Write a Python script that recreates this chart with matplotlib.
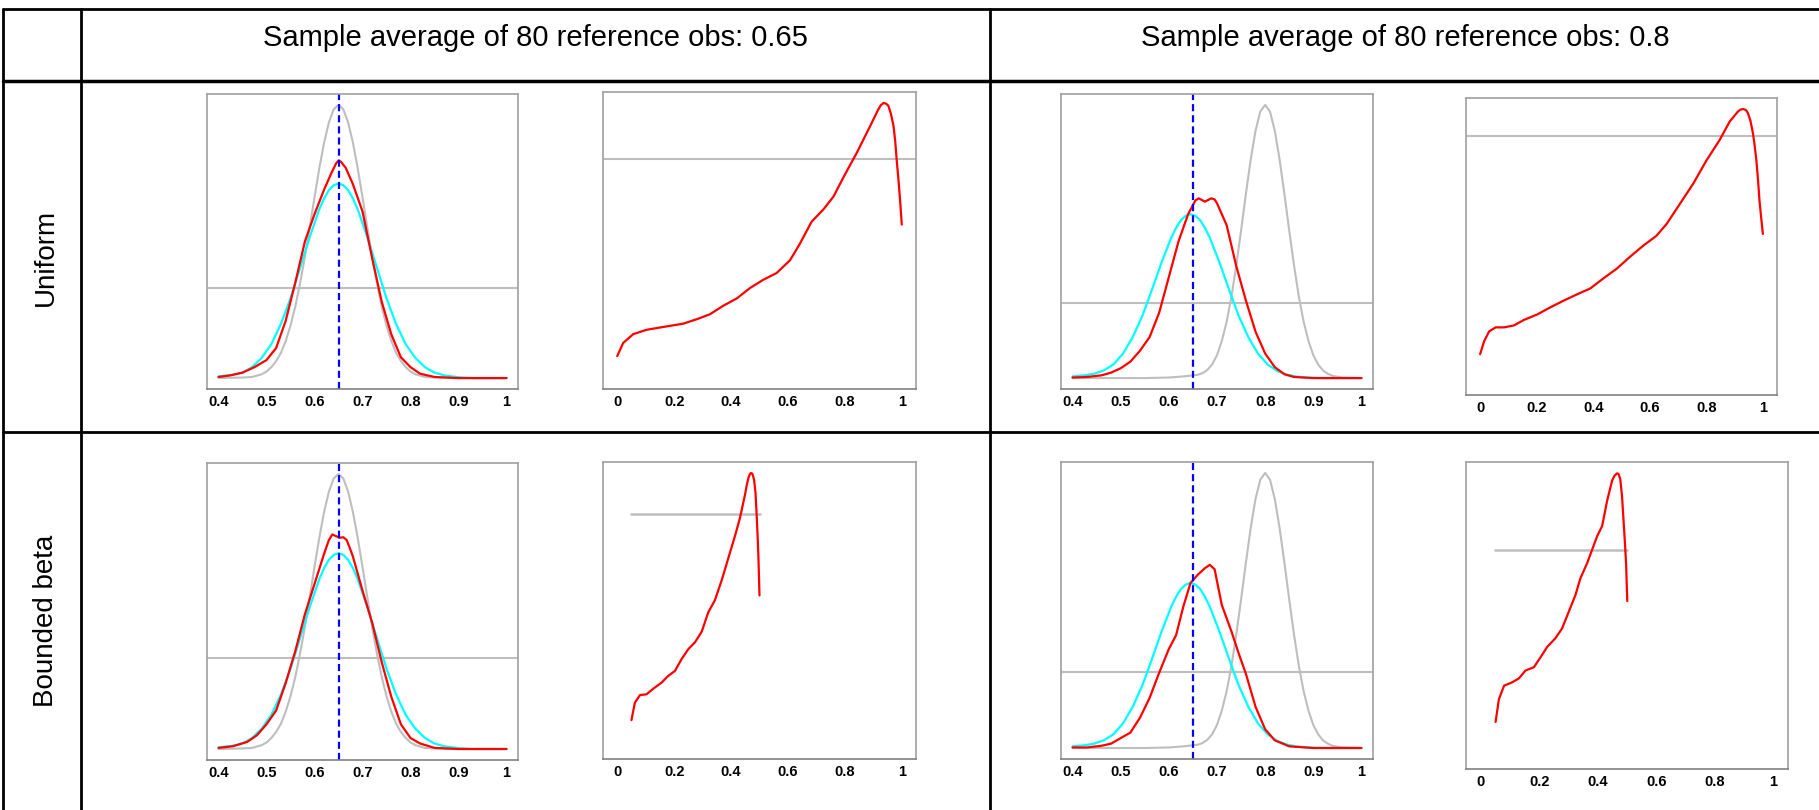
import matplotlib.pyplot as plt
from matplotlib.lines import Line2D

plt.rcParams["lines.solid_joinstyle"] = "round"
plt.rcParams["lines.solid_capstyle"] = "round"

# ---- data ----
# left panels: densities on 0.4 .. 1 (units: gray peak = 5)
gray_065_x = [0.40, 0.45, 0.47, 0.49, 0.50, 0.51, 0.52, 0.53, 0.54, 0.55, 0.56, 0.57, 0.58, 0.59, 0.60,
              0.61, 0.62, 0.63, 0.64, 0.65, 0.66, 0.67, 0.68, 0.69, 0.70, 0.71, 0.72, 0.73, 0.74,
              0.75, 0.76, 0.77, 0.78, 0.79, 0.80, 0.81, 0.83, 0.85, 0.90, 1.00]
gray_065_y = [0.00, 0.01, 0.02, 0.07, 0.12, 0.20, 0.31, 0.46, 0.68, 0.96, 1.31, 1.74, 2.22, 2.76, 3.31,
              3.84, 4.31, 4.68, 4.92, 5.00, 4.92, 4.68, 4.31, 3.84, 3.31, 2.76, 2.22, 1.74, 1.31,
              0.96, 0.68, 0.46, 0.31, 0.20, 0.12, 0.07, 0.02, 0.01, 0.00, 0.00]

gray_080_x = [0.40, 0.55, 0.60, 0.63, 0.65, 0.66, 0.67, 0.68, 0.69, 0.70, 0.71, 0.72, 0.73, 0.74, 0.75,
              0.76, 0.77, 0.78, 0.79, 0.80, 0.81, 0.82, 0.83, 0.84, 0.85, 0.86, 0.87, 0.88, 0.89,
              0.90, 0.91, 0.92, 0.93, 0.94, 0.96, 1.00]
gray_080_y = [0.00, 0.00, 0.01, 0.03, 0.05, 0.06, 0.09, 0.15, 0.25, 0.42, 0.68, 1.03, 1.49, 2.06, 2.70,
              3.37, 4.00, 4.53, 4.88, 5.00, 4.88, 4.53, 4.00, 3.37, 2.70, 2.06, 1.49, 1.03, 0.68,
              0.42, 0.25, 0.14, 0.08, 0.04, 0.01, 0.00]

cyan_065_x = [0.40, 0.43, 0.45, 0.47, 0.49, 0.51, 0.53, 0.55, 0.57, 0.59, 0.61, 0.62, 0.63, 0.64, 0.65,
              0.66, 0.67, 0.68, 0.69, 0.71, 0.73, 0.75, 0.77, 0.79, 0.81, 0.83, 0.85, 0.87, 0.90, 0.93, 1.00]
cyan_065_y = [0.03, 0.06, 0.10, 0.20, 0.37, 0.62, 0.99, 1.46, 2.02, 2.58, 3.09, 3.29, 3.44, 3.53, 3.56,
              3.53, 3.44, 3.29, 3.09, 2.58, 2.02, 1.46, 0.99, 0.62, 0.37, 0.20, 0.10, 0.05, 0.015, 0.00, 0.00]

cyan_080_x = [0.40, 0.425, 0.445, 0.465, 0.485, 0.505, 0.525, 0.545, 0.565, 0.585, 0.605, 0.615, 0.625,
              0.635, 0.645, 0.655, 0.665, 0.675, 0.685, 0.705, 0.725, 0.745, 0.765, 0.785, 0.805, 0.825,
              0.845, 0.865, 0.885, 0.92, 1.00]
cyan_080_y = [0.03, 0.05, 0.08, 0.14, 0.25, 0.45, 0.75, 1.14, 1.62, 2.12, 2.57, 2.75, 2.89,
              2.97, 3.00, 2.97, 2.89, 2.75, 2.57, 2.12, 1.62, 1.14, 0.75, 0.45, 0.25, 0.13,
              0.063, 0.028, 0.012, 0.00, 0.00]

red_uni_065_x = [0.40, 0.425, 0.45, 0.475, 0.50, 0.52, 0.54, 0.56, 0.58, 0.60, 0.62, 0.635, 0.645, 0.65,
                 0.655, 0.665, 0.68, 0.70, 0.72, 0.74, 0.76, 0.78, 0.80, 0.82, 0.85, 0.90, 1.00]
red_uni_065_y = [0.02, 0.05, 0.10, 0.20, 0.33, 0.55, 1.05, 1.75, 2.50, 3.00, 3.45, 3.75, 3.93, 3.98,
                 3.96, 3.85, 3.55, 3.05, 2.20, 1.40, 0.80, 0.38, 0.20, 0.08, 0.02, 0.00, 0.00]

red_bb_065_x = [0.40, 0.43, 0.46, 0.48, 0.50, 0.52, 0.54, 0.56, 0.58, 0.60, 0.62, 0.63, 0.637, 0.645,
                0.652, 0.66, 0.667, 0.675, 0.68, 0.70, 0.72, 0.74, 0.76, 0.78, 0.80, 0.82, 0.85, 0.90, 1.00]
red_bb_065_y = [0.02, 0.05, 0.13, 0.25, 0.45, 0.70, 1.20, 1.78, 2.45, 3.00, 3.55, 3.80, 3.90, 3.87,
                3.84, 3.85, 3.80, 3.62, 3.50, 2.88, 2.30, 1.58, 0.95, 0.45, 0.20, 0.10, 0.02, 0.00, 0.00]

red_uni_080_x = [0.40, 0.43, 0.46, 0.48, 0.50, 0.52, 0.54, 0.56, 0.58, 0.60, 0.62, 0.64, 0.655, 0.662,
                 0.675, 0.688, 0.695, 0.70, 0.72, 0.74, 0.76, 0.78, 0.80, 0.82, 0.84, 0.86, 0.90, 1.00]
red_uni_080_y = [0.01, 0.02, 0.05, 0.10, 0.18, 0.30, 0.50, 0.75, 1.20, 1.85, 2.50, 3.00, 3.25, 3.29,
                 3.23, 3.29, 3.27, 3.20, 2.80, 2.05, 1.42, 0.85, 0.45, 0.20, 0.07, 0.02, 0.00, 0.00]

red_bb_080_x = [0.40, 0.43, 0.46, 0.48, 0.50, 0.52, 0.54, 0.56, 0.58, 0.60, 0.615, 0.63, 0.645, 0.66,
                0.675, 0.685, 0.695, 0.71, 0.73, 0.745, 0.76, 0.78, 0.80, 0.82, 0.85, 0.90, 1.00]
red_bb_080_y = [0.01, 0.01, 0.04, 0.08, 0.18, 0.28, 0.55, 0.91, 1.37, 1.80, 2.05, 2.57, 3.00, 3.15,
                3.27, 3.33, 3.25, 2.60, 2.12, 1.72, 1.35, 0.75, 0.34, 0.14, 0.03, 0.00, 0.00]

# uniform prior level in the left panels
prior_065 = 1.65
prior_080 = 1.38

# right panels: densities on 0 .. 1
post_uni_065_x = [0.0, 0.021, 0.056, 0.103, 0.162, 0.232, 0.279, 0.326, 0.373, 0.42, 0.467, 0.513, 0.56,
                  0.607, 0.642, 0.683, 0.725, 0.76, 0.795, 0.842, 0.889, 0.918, 0.927, 0.936, 0.945,
                  0.953, 0.962, 0.971, 0.977, 0.982, 0.988, 0.994, 1.0]
post_uni_065_y = [0.10, 0.16, 0.20, 0.22, 0.233, 0.248, 0.268, 0.291, 0.33, 0.363, 0.411, 0.448, 0.479,
                  0.537, 0.613, 0.713, 0.77, 0.828, 0.916, 1.028, 1.15, 1.227, 1.246, 1.255, 1.252,
                  1.242, 1.205, 1.15, 1.08, 0.997, 0.91, 0.813, 0.70]

post_uni_080_x = [0.0, 0.014, 0.032, 0.055, 0.085, 0.12, 0.155, 0.202, 0.249, 0.296, 0.343, 0.39, 0.437,
                  0.484, 0.53, 0.577, 0.624, 0.66, 0.707, 0.754, 0.80, 0.847, 0.883, 0.912, 0.92, 0.93,
                  0.94, 0.947, 0.956, 0.965, 0.971, 0.977, 0.983, 0.988, 0.994, 1.0]
post_uni_080_y = [0.12, 0.172, 0.212, 0.228, 0.228, 0.236, 0.258, 0.28, 0.309, 0.336, 0.361, 0.385, 0.426,
                  0.465, 0.512, 0.557, 0.597, 0.645, 0.726, 0.807, 0.899, 0.982, 1.057, 1.097, 1.104, 1.107,
                  1.103, 1.091, 1.06, 1.009, 0.96, 0.901, 0.82, 0.739, 0.67, 0.604]

post_bb_065_x = [0.05, 0.062, 0.08, 0.103, 0.127, 0.156, 0.179, 0.203, 0.226, 0.25, 0.273, 0.297, 0.32,
                 0.343, 0.367, 0.39, 0.414, 0.431, 0.449, 0.455, 0.461, 0.466, 0.47, 0.475, 0.481, 0.486,
                 0.49, 0.493, 0.496, 0.498, 0.50]
post_bb_065_y = [0.264, 0.429, 0.502, 0.509, 0.563, 0.62, 0.683, 0.731, 0.842, 0.938, 1.001, 1.103, 1.287,
                 1.399, 1.589, 1.796, 2.012, 2.177, 2.40, 2.49, 2.559, 2.595, 2.607, 2.60, 2.543, 2.42,
                 2.209, 2.03, 1.828, 1.64, 1.446]

post_bb_080_x = [0.051, 0.0625, 0.08, 0.108, 0.131, 0.153, 0.182, 0.205, 0.227, 0.256, 0.278, 0.301, 0.324,
                 0.341, 0.364, 0.381, 0.398, 0.415, 0.432, 0.449, 0.457, 0.466, 0.471, 0.477, 0.483,
                 0.489, 0.493, 0.497, 0.499, 0.501]
post_bb_080_y = [0.382, 0.627, 0.771, 0.807, 0.85, 0.933, 0.969, 1.077, 1.185, 1.282, 1.383, 1.563, 1.743,
                 1.923, 2.085, 2.229, 2.373, 2.481, 2.751, 2.967, 3.02, 3.046, 3.04, 2.985, 2.8,
                 2.499, 2.3, 2.067, 1.87, 1.678]

# bounded beta support and prior level
bb_lo, bb_hi = 0.05, 0.5
bb_prior = 1 / (bb_hi - bb_lo)

ref_mean = 0.65
left_ticks = [0.4, 0.5, 0.6, 0.7, 0.8, 0.9, 1.0]
left_labels = ["0.4", "0.5", "0.6", "0.7", "0.8", "0.9", "1"]
right_ticks = [0, 0.2, 0.4, 0.6, 0.8, 1.0]
right_labels = ["0", "0.2", "0.4", "0.6", "0.8", "1"]

col_titles = ["Sample average of 80 reference obs: 0.65", "Sample average of 80 reference obs: 0.8"]
row_titles = ["Uniform", "Bounded beta"]

W, H = 1819, 810
fig = plt.figure(figsize=(W / 100, H / 100), dpi=100)

GRAY = "#bebebe"


def box(l, t, r, b):
    # pixel box -> figure axes
    return fig.add_axes([l / W, 1 - b / H, (r - l) / W, (b - t) / H])


def style(ax, ticks, labels, xlim):
    ax.set_xlim(*xlim)
    ax.set_xticks(ticks)
    ax.set_xticklabels(labels, fontsize=10.5, fontweight="bold", family="Liberation Sans")
    ax.set_yticks([])
    for s in ax.spines.values():
        s.set_color("#a0a0a0")
        s.set_linewidth(1.2)
    ax.spines["bottom"].set_color("#808080")
    ax.tick_params(axis="x", length=0, pad=4)


def left_panel(ax, gx, gy, cx, cy, rx, ry, prior):
    ax.axhline(prior, color=GRAY, lw=1.5)
    ax.plot(gx, gy, color=GRAY, lw=1.5)
    ax.plot(cx, cy, color="#00ffff", lw=1.6)
    ax.plot(rx, ry, color="red", lw=1.6)
    ax.axvline(ref_mean, color="blue", lw=1.6, ls=(0, (3.2, 1.8)))
    m = max(gy)
    ax.set_ylim(-0.04 * m, 1.04 * m)
    style(ax, left_ticks, left_labels, (0.376, 1.024))


def right_panel(ax, px, py, full_line, level):
    if full_line:
        ax.axhline(level, color=GRAY, lw=1.5)
    else:
        ax.plot([bb_lo, bb_hi], [level, level], color=GRAY, lw=1.8)
    ax.plot(px, py, color="red", lw=1.6)
    m = max(py)
    ax.set_ylim(-0.04 * m, 1.04 * m)
    style(ax, right_ticks, right_labels, (-0.05, 1.05))


# row 1: uniform
left_panel(box(207, 94, 518, 389), gray_065_x, gray_065_y, cyan_065_x, cyan_065_y,
           red_uni_065_x, red_uni_065_y, prior_065)
right_panel(box(603, 92, 916, 389), post_uni_065_x, post_uni_065_y, True, 1.0)
left_panel(box(1061, 94, 1373, 389), gray_080_x, gray_080_y, cyan_080_x, cyan_080_y,
           red_uni_080_x, red_uni_080_y, prior_080)
right_panel(box(1466, 98, 1777, 395), post_uni_080_x, post_uni_080_y, True, 1.0)

# row 2: bounded beta
left_panel(box(207, 463, 518, 760), gray_065_x, gray_065_y, cyan_065_x, cyan_065_y,
           red_bb_065_x, red_bb_065_y, prior_065)
right_panel(box(603, 462, 916, 759), post_bb_065_x, post_bb_065_y, False, bb_prior)
left_panel(box(1061, 462, 1373, 759), gray_080_x, gray_080_y, cyan_080_x, cyan_080_y,
           red_bb_080_x, red_bb_080_y, prior_080)
right_panel(box(1466, 462, 1788, 769), post_bb_080_x, post_bb_080_y, False, bb_prior)


# table grid
def hline(y, lw=2.0):
    fig.add_artist(Line2D([3 / W, 1], [1 - y / H, 1 - y / H], color="black", lw=lw))


def vline(x, lw=2.0):
    fig.add_artist(Line2D([x / W, x / W], [1 - 9 / H, 0], color="black", lw=lw))


hline(9)
hline(81, 2.5)
hline(432)
vline(3)
vline(81)
vline(990)

fig.text(535 / W, 1 - 38 / H, col_titles[0], ha="center", va="center", fontsize=21, family="Liberation Sans")
fig.text(1405 / W, 1 - 38 / H, col_titles[1], ha="center", va="center", fontsize=21, family="Liberation Sans")
fig.text(46 / W, 1 - 257 / H, row_titles[0], ha="center", va="center", rotation=90, fontsize=20,
         family="Liberation Sans")
fig.text(46 / W, 1 - 621 / H, row_titles[1], ha="center", va="center", rotation=90, fontsize=20,
         family="Liberation Sans")

fig.savefig("out.png", dpi=100)
